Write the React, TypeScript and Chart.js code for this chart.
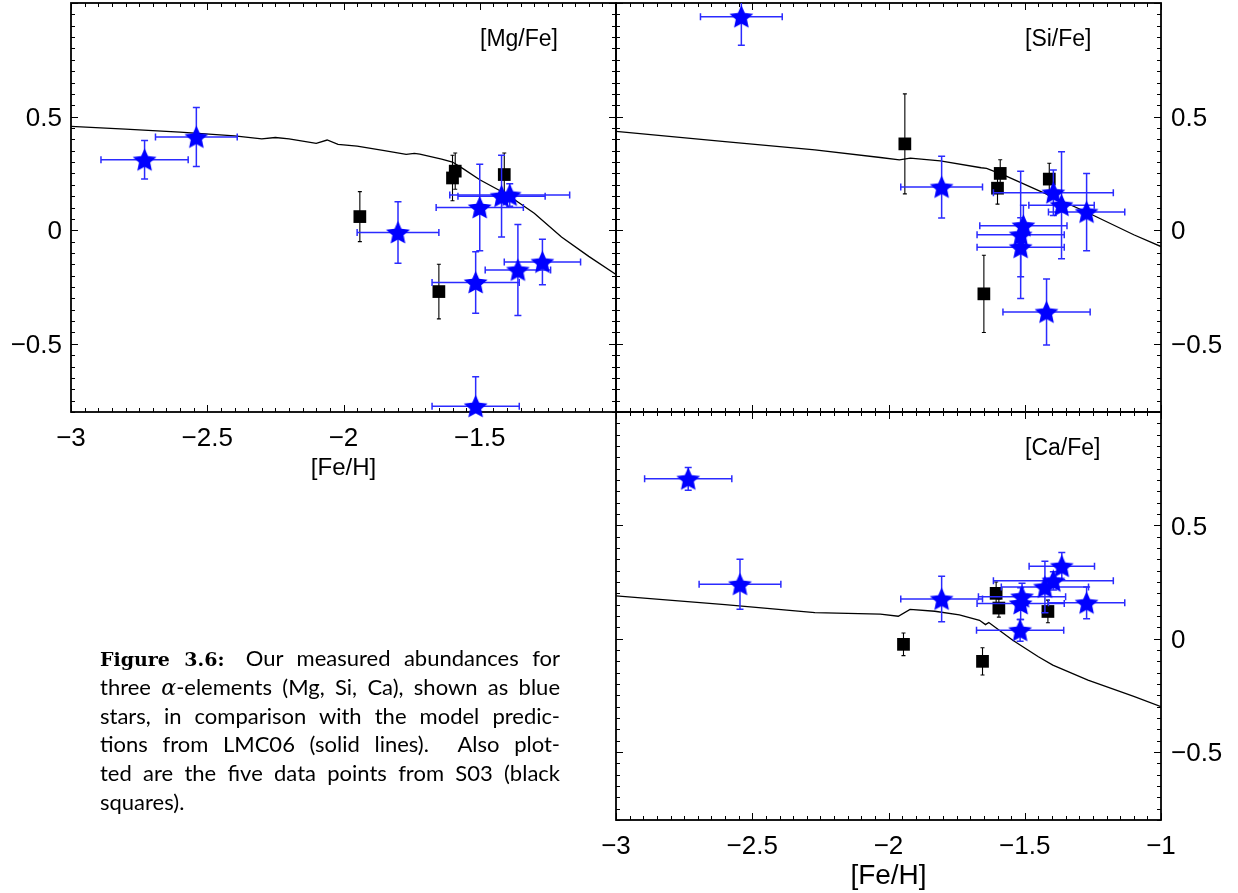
import React, { useEffect, useRef } from 'react';
import { Chart, registerables } from 'chart.js';

Chart.register(...registerables);

// ---------------- data ----------------
// [Mg/Fe]
const mgStarFeH = [-2.73, -2.54, -1.80, -1.50, -1.515, -1.515, -1.42, -1.39, -1.36, -1.27];
const mgStarVal = [0.31, 0.41, -0.01, 0.10, -0.23, -0.775, 0.15, 0.155, -0.175, -0.14];
const mgStarFeHErr = [0.16, 0.15, 0.15, 0.16, 0.16, 0.16, 0.16, 0.22, 0.12, 0.14];
const mgStarValErr = [0.085, 0.13, 0.135, 0.19, 0.135, 0.13, 0.18, 0.05, 0.20, 0.10];
const mgS03FeH = [-1.94, -1.60, -1.59, -1.41, -1.65];
const mgS03Val = [0.06, 0.23, 0.26, 0.245, -0.27];
const mgS03Err = [0.11, 0.10, 0.08, 0.095, 0.12];
const mgModelFeH = [-3, -2.8, -2.6, -2.4, -2.3, -2.25, -2.2, -2.1, -2.06, -2.02, -1.95, -1.85, -1.77, -1.74, -1.72, -1.64, -1.6, -1.56, -1.5, -1.4, -1.3, -1.2, -1.1, -1.0];
const mgModelVal = [0.457, 0.445, 0.432, 0.415, 0.402, 0.408, 0.402, 0.382, 0.397, 0.378, 0.370, 0.350, 0.334, 0.338, 0.335, 0.313, 0.300, 0.270, 0.222, 0.157, 0.075, -0.030, -0.115, -0.195];

// [Si/Fe]
const siStarFeH = [-2.54, -1.805, -1.505, -1.515, -1.515, -1.42, -1.395, -1.365, -1.273];
const siStarVal = [0.94, 0.19, 0.02, -0.02, -0.075, -0.36, 0.165, 0.11, 0.08];
const siStarFeHErr = [0.15, 0.15, 0.16, 0.16, 0.16, 0.16, 0.22, 0.12, 0.14];
const siStarValErr = [0.126, 0.136, 0.09, 0.28, 0.13, 0.145, 0.10, 0.235, 0.17];
const siS03FeH = [-1.94, -1.59, -1.60, -1.41, -1.65];
const siS03Val = [0.38, 0.25, 0.185, 0.225, -0.28];
const siS03Err = [0.22, 0.06, 0.07, 0.07, 0.17];
const siModelFeH = [-3, -2.6, -2.27, -2.03, -1.96, -1.92, -1.81, -1.66, -1.64, -1.57, -1.42, -1.27, -1.1, -1.0];
const siModelVal = [0.435, 0.39, 0.354, 0.32, 0.31, 0.317, 0.305, 0.275, 0.272, 0.239, 0.159, 0.078, -0.02, -0.072];

// [Ca/Fe]
const caStarFeH = [-2.735, -2.545, -1.805, -1.51, -1.515, -1.517, -1.426, -1.395, -1.364, -1.273];
const caStarVal = [0.705, 0.24, 0.175, 0.185, 0.155, 0.037, 0.228, 0.255, 0.32, 0.158];
const caStarFeHErr = [0.16, 0.15, 0.15, 0.16, 0.16, 0.16, 0.16, 0.22, 0.12, 0.14];
const caStarValErr = [0.05, 0.11, 0.10, 0.06, 0.07, 0.048, 0.114, 0.04, 0.06, 0.07];
const caS03FeH = [-1.945, -1.605, -1.595, -1.415, -1.655];
const caS03Val = [-0.025, 0.20, 0.135, 0.12, -0.10];
const caS03Err = [0.05, 0.05, 0.04, 0.05, 0.06];
const caModelFeH = [-3, -2.6, -2.27, -2.03, -1.964, -1.921, -1.83, -1.74, -1.666, -1.644, -1.632, -1.544, -1.45, -1.397, -1.268, -1.1, -1.0];
const caModelVal = [0.189, 0.15, 0.115, 0.108, 0.099, 0.129, 0.121, 0.105, 0.081, 0.062, 0.071, -0.007, -0.08, -0.117, -0.183, -0.255, -0.30];

// ticks / labels
const xRange = [-3, -1];
const yRange = [-0.8, 1.0];
const yTickValues = [-0.5, 0, 0.5];
const xTickValuesTop = [-3, -2.5, -2, -1.5];
const xTickValuesBottom = [-3, -2.5, -2, -1.5, -1];
const xTitle = '[Fe/H]';

const fmt = (v: number) => (v === 0 ? '0' : (v < 0 ? '\u2212' : '') + String(Math.abs(v)));

// ---------------- plugins ----------------
const framePlugin = {
  id: 'frame',
  beforeDatasetsDraw(chart: any, _a: any, opts: any) {
    const { ctx, chartArea: a } = chart;
    const xs = chart.scales.x;
    const ys = chart.scales.y;
    ctx.save();
    ctx.strokeStyle = '#000';
    ctx.lineWidth = 1;
    const nx = Math.round((xs.max - xs.min) / 0.05);
    for (let i = 0; i <= nx; i++) {
      const v = xs.min + i * 0.05;
      const px = Math.round(xs.getPixelForValue(v)) + 0.5;
      const len = i % 10 === 0 ? 7 : 4;
      ctx.beginPath();
      ctx.moveTo(px, a.bottom);
      ctx.lineTo(px, a.bottom - len);
      ctx.moveTo(px, a.top);
      ctx.lineTo(px, a.top + len);
      ctx.stroke();
    }
    const ny = Math.round((ys.max - ys.min) / 0.05);
    for (let i = 0; i <= ny; i++) {
      const v = ys.min + i * 0.05;
      const major = Math.abs(v / 0.5 - Math.round(v / 0.5)) < 1e-6;
      const py = Math.round(ys.getPixelForValue(v)) + 0.5;
      const len = major ? 7 : 4;
      ctx.beginPath();
      ctx.moveTo(a.left, py);
      ctx.lineTo(a.left + len, py);
      ctx.moveTo(a.right, py);
      ctx.lineTo(a.right - len, py);
      ctx.stroke();
    }
    ctx.lineWidth = 1.8;
    ctx.strokeRect(a.left, a.top, a.right - a.left, a.bottom - a.top);
    if (opts && opts.label) {
      ctx.font = '23px "Liberation Sans"';
      ctx.fillStyle = '#000';
      ctx.textBaseline = 'middle';
      ctx.textAlign = 'left';
      ctx.fillText(opts.label, a.left + 409, a.top + 37);
    }
    ctx.restore();
  },
};

const errPlugin = {
  id: 'errbars',
  beforeDatasetDraw(chart: any, args: any) {
    const ds = chart.data.datasets[args.index];
    if (!ds.yErr) return;
    const { ctx, chartArea: a } = chart;
    const xs = chart.scales.x;
    const ys = chart.scales.y;
    ctx.save();
    ctx.beginPath();
    ctx.rect(a.left, a.top, a.right - a.left, a.bottom - a.top);
    ctx.clip();
    ctx.strokeStyle = ds.errColor;
    ctx.lineWidth = ds.errWidth;
    const cap = ds.capSize;
    ds.data.forEach((pt: any, i: number) => {
      const cx = xs.getPixelForValue(pt.x);
      const cy = ys.getPixelForValue(pt.y);
      ctx.beginPath();
      if (ds.xErr) {
        const x0 = xs.getPixelForValue(pt.x - ds.xErr[i]);
        const x1 = xs.getPixelForValue(pt.x + ds.xErr[i]);
        ctx.moveTo(x0, cy);
        ctx.lineTo(x1, cy);
        ctx.moveTo(x0, cy - cap);
        ctx.lineTo(x0, cy + cap);
        ctx.moveTo(x1, cy - cap);
        ctx.lineTo(x1, cy + cap);
      }
      const y0 = ys.getPixelForValue(pt.y - ds.yErr[i]);
      const y1 = ys.getPixelForValue(pt.y + ds.yErr[i]);
      ctx.moveTo(cx, y0);
      ctx.lineTo(cx, y1);
      ctx.moveTo(cx - cap, y0);
      ctx.lineTo(cx + cap, y0);
      ctx.moveTo(cx - cap, y1);
      ctx.lineTo(cx + cap, y1);
      ctx.stroke();
    });
    ctx.restore();
  },
};

function makeStar(r: number, color: string) {
  const c = document.createElement('canvas');
  const s = Math.ceil(r * 2 + 2);
  c.width = s;
  c.height = s;
  const g = c.getContext('2d')!;
  g.fillStyle = color;
  g.beginPath();
  for (let i = 0; i < 10; i++) {
    const rad = i % 2 === 0 ? r : r * 0.47;
    const ang = -Math.PI / 2 + (i * Math.PI) / 5;
    const px = s / 2 + rad * Math.cos(ang);
    const py = s / 2 + 1 + rad * Math.sin(ang);
    if (i === 0) g.moveTo(px, py);
    else g.lineTo(px, py);
  }
  g.closePath();
  g.fill();
  return c;
}

const zip = (xs: number[], ys: number[]) => xs.map((x, i) => ({ x, y: ys[i] }));

type PanelSpec = {
  label: string;
  starFeH: number[]; starVal: number[]; starFeHErr: number[]; starValErr: number[];
  s03FeH: number[]; s03Val: number[]; s03Err: number[];
  modelFeH: number[]; modelVal: number[];
  canvas: { left: number; top: number; width: number; height: number };
  padding: { left: number; top: number; right: number; bottom: number };
  yPos: 'left' | 'right';
  yWidth: number;
  xTicks: number[] | null;
  xHeight: number;
  xTitleSize: number;
  xTitlePad: number;
};

const tickFont = { family: 'Liberation Sans', size: 26 };

function Panel({ spec }: { spec: PanelSpec }) {
  const ref = useRef<HTMLCanvasElement | null>(null);
  useEffect(() => {
    if (!ref.current) return;
    const star = makeStar(12.5, '#0000ff');
    const xShow = spec.xTicks !== null;
    const chart = new Chart(ref.current, {
      type: 'scatter',
      data: {
        datasets: [
          {
            data: zip(spec.starFeH, spec.starVal),
            pointStyle: star as any,
            pointRadius: 12,
            backgroundColor: '#0000ff',
            borderColor: '#0000ff',
            clip: false as any,
            xErr: spec.starFeHErr,
            yErr: spec.starValErr,
            errColor: '#2b2bff',
            errWidth: 1.5,
            capSize: 3.5,
          } as any,
          {
            data: zip(spec.s03FeH, spec.s03Val),
            pointStyle: 'rect',
            pointRadius: 9,
            backgroundColor: '#000',
            borderWidth: 0,
            clip: false as any,
            yErr: spec.s03Err,
            errColor: '#000',
            errWidth: 1.1,
            capSize: 2,
          } as any,
          {
            data: zip(spec.modelFeH, spec.modelVal),
            showLine: true,
            pointRadius: 0,
            borderColor: '#000',
            borderWidth: 1.3,
            tension: 0,
          } as any,
        ],
      },
      options: {
        animation: false,
        responsive: false,
        maintainAspectRatio: false,
        devicePixelRatio: 1,
        events: [],
        layout: { padding: spec.padding, autoPadding: false },
        plugins: {
          legend: { display: false },
          tooltip: { enabled: false },
          frame: { label: spec.label },
        } as any,
        scales: {
          x: {
            type: 'linear',
            min: xRange[0],
            max: xRange[1],
            display: xShow,
            position: 'bottom',
            grid: { display: false, drawTicks: false },
            border: { display: false },
            afterBuildTicks: (s: any) => {
              s.ticks = (spec.xTicks || []).map((v) => ({ value: v }));
            },
            afterFit: (s: any) => {
              s.height = spec.xHeight;
              s.paddingLeft = 0;
              s.paddingRight = 0;
            },
            ticks: {
              autoSkip: false,
              maxRotation: 0,
              padding: 11,
              color: '#000',
              font: tickFont,
              callback: (v: any) => fmt(Number(v)),
            },
            title: {
              display: xShow,
              text: xTitle,
              color: '#000',
              font: { family: 'Liberation Sans', size: spec.xTitleSize },
              padding: { top: 0, bottom: spec.xTitlePad },
            },
          },
          y: {
            type: 'linear',
            min: yRange[0],
            max: yRange[1],
            position: spec.yPos,
            grid: { display: false, drawTicks: false },
            border: { display: false },
            afterBuildTicks: (s: any) => {
              s.ticks = yTickValues.map((v) => ({ value: v }));
            },
            afterFit: (s: any) => {
              s.width = spec.yWidth;
              s.paddingTop = 0;
              s.paddingBottom = 0;
            },
            ticks: {
              padding: spec.yPos === 'left' ? 9 : 10,
              labelOffset: 2,
              color: '#000',
              font: tickFont,
              crossAlign: 'near',
              callback: (v: any) => fmt(Number(v)),
            },
          },
        },
      } as any,
      plugins: [framePlugin, errPlugin],
    });
    return () => chart.destroy();
  }, []);
  const c = spec.canvas;
  return (
    <canvas
      ref={ref}
      width={c.width}
      height={c.height}
      style={{ position: 'absolute', left: c.left, top: c.top, width: c.width, height: c.height }}
    />
  );
}

const panels: PanelSpec[] = [
  {
    label: '[Mg/Fe]',
    starFeH: mgStarFeH, starVal: mgStarVal, starFeHErr: mgStarFeHErr, starValErr: mgStarValErr,
    s03FeH: mgS03FeH, s03Val: mgS03Val, s03Err: mgS03Err,
    modelFeH: mgModelFeH, modelVal: mgModelVal,
    canvas: { left: 0, top: 0, width: 660, height: 495 },
    padding: { left: 0, top: 3, right: 44, bottom: 0 },
    yPos: 'left',
    yWidth: 71,
    xTicks: xTickValuesTop,
    xHeight: 83,
    xTitleSize: 24,
    xTitlePad: 12,
  },
  {
    label: '[Si/Fe]',
    starFeH: siStarFeH, starVal: siStarVal, starFeHErr: siStarFeHErr, starValErr: siStarValErr,
    s03FeH: siS03FeH, s03Val: siS03Val, s03Err: siS03Err,
    modelFeH: siModelFeH, modelVal: siModelVal,
    canvas: { left: 560, top: 0, width: 678, height: 430 },
    padding: { left: 56, top: 3, right: 0, bottom: 18 },
    yPos: 'right',
    yWidth: 77,
    xTicks: null,
    xHeight: 0,
    xTitleSize: 24,
    xTitlePad: 0,
  },
  {
    label: '[Ca/Fe]',
    starFeH: caStarFeH, starVal: caStarVal, starFeHErr: caStarFeHErr, starValErr: caStarValErr,
    s03FeH: caS03FeH, s03Val: caS03Val, s03Err: caS03Err,
    modelFeH: caModelFeH, modelVal: caModelVal,
    canvas: { left: 560, top: 395, width: 678, height: 498 },
    padding: { left: 56, top: 17, right: 0, bottom: 0 },
    yPos: 'right',
    yWidth: 77,
    xTicks: xTickValuesBottom,
    xHeight: 73,
    xTitleSize: 28,
    xTitlePad: 0,
  },
];

const lineStyle = (last: boolean): React.CSSProperties => ({
  textAlign: 'justify',
  textAlignLast: last ? 'left' : 'justify',
  height: 28.8,
});

export default function App() {
  return (
    <div style={{ position: 'absolute', left: 0, top: 0, width: 1238, height: 893, overflow: 'hidden', background: '#fff' }}>
      {panels.map((p, i) => (
        <Panel key={i} spec={p} />
      ))}
      <div
        style={{
          position: 'absolute',
          left: 100,
          top: 644,
          width: 460,
          fontFamily: 'Lato, "Open Sans", sans-serif',
          fontSize: 22,
          lineHeight: '28.8px',
          color: '#000',
        }}
      >
        <div style={lineStyle(false)}>
          <b style={{ fontFamily: '"DejaVu Serif", serif', fontSize: 19 }}>Figure 3.6:</b>
          <span style={{ display: 'inline-block', width: 8 }} /> Our measured abundances for
        </div>
        <div style={lineStyle(false)}>
          three <i style={{ fontFamily: '"DejaVu Serif", serif' }}>α</i>-elements (Mg, Si, Ca), shown as blue
        </div>
        <div style={lineStyle(false)}>stars, in comparison with the model predic-</div>
        <div style={lineStyle(false)}>tions from LMC06 (solid lines).&nbsp; Also plot-</div>
        <div style={lineStyle(false)}>ted are the five data points from S03 (black</div>
        <div style={lineStyle(true)}>squares).</div>
      </div>
    </div>
  );
}
